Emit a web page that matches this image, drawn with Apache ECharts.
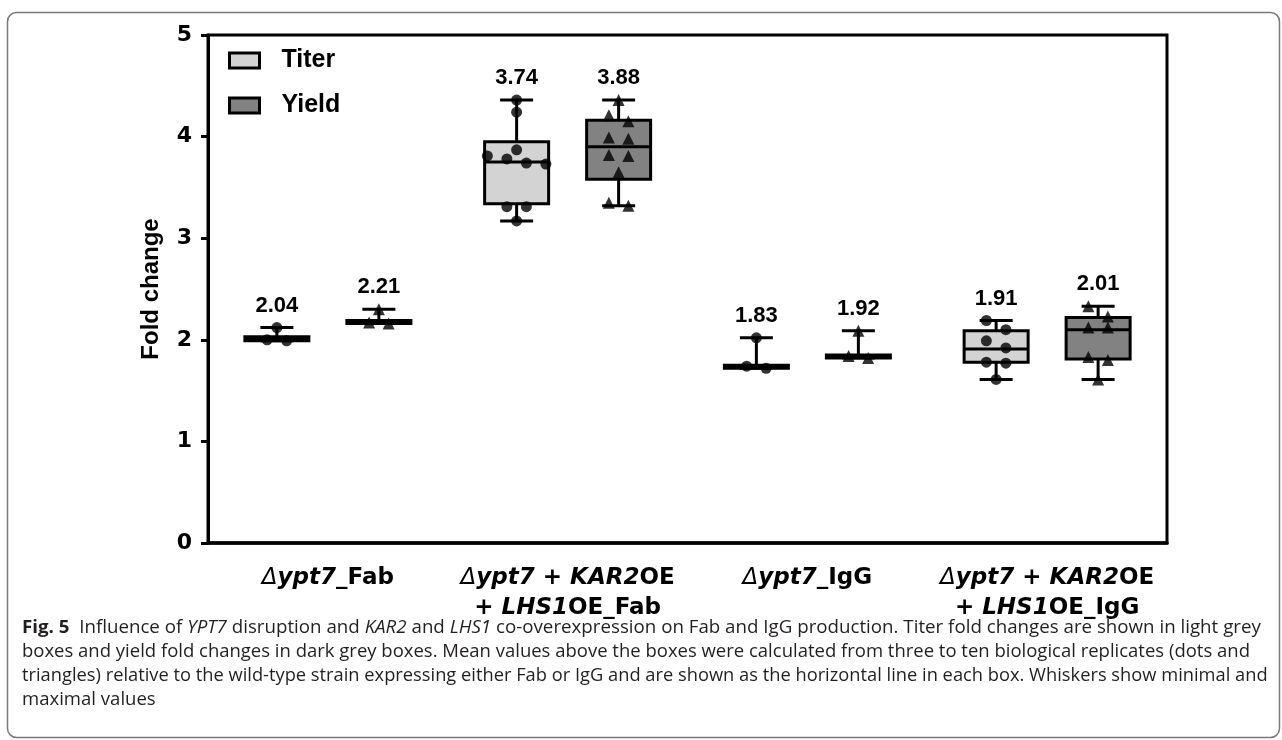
<!DOCTYPE html>
<html>
<head>
<meta charset="utf-8">
<script src="https://cdn.jsdelivr.net/npm/echarts@6/dist/echarts.min.js"></script>
<style>
  html, body { margin: 0; padding: 0; background: #fff; }
  #chart { width: 1282px; height: 740px; }
</style>
</head>
<body>
<div id="chart"></div>
<script>
// Strains (x categories) and their two-line rich labels
const categories = ['Δypt7_Fab', 'Δypt7 + KAR2OE + LHS1OE_Fab', 'Δypt7_IgG', 'Δypt7 + KAR2OE + LHS1OE_IgG'];
const categoryLabels = [
  '{d|Δ}{i|ypt7}{b|_Fab}',
  '{d|Δ}{i|ypt7}{b| + }{i|KAR2}{b|OE}\n{b|+ }{i|LHS1}{b|OE_Fab}',
  '{d|Δ}{i|ypt7}{b|_IgG}',
  '{d|Δ}{i|ypt7}{b| + }{i|KAR2}{b|OE}\n{b|+ }{i|LHS1}{b|OE_IgG}'
];

// Biological replicates (fold change vs. wild type)
const titerReplicates = [
  [1.99, 2.00, 2.12],
  [3.17, 3.31, 3.31, 3.73, 3.74, 3.78, 3.81, 3.87, 4.24, 4.36],
  [1.72, 1.74, 2.02],
  [1.61, 1.77, 1.78, 1.92, 1.99, 2.10, 2.19]
];
const yieldReplicates = [
  [2.16, 2.17, 2.30],
  [3.32, 3.35, 3.65, 3.81, 3.82, 3.98, 3.99, 4.15, 4.21, 4.36],
  [1.82, 1.84, 2.09],
  [1.61, 1.80, 1.83, 2.12, 2.12, 2.23, 2.33]
];

// Box statistics: [min, Q1, centre line, Q3, max]
const titerBoxes = [
  [1.99, 1.99, 2.01, 2.03, 2.12],
  [3.17, 3.34, 3.75, 3.95, 4.36],
  [1.72, 1.72, 1.74, 1.75, 2.02],
  [1.61, 1.78, 1.91, 2.09, 2.19]
];
const yieldBoxes = [
  [2.16, 2.16, 2.17, 2.19, 2.30],
  [3.32, 3.58, 3.90, 4.16, 4.36],
  [1.82, 1.82, 1.84, 1.85, 2.09],
  [1.61, 1.81, 2.10, 2.22, 2.33]
];

// Mean fold changes printed above the boxes
const titerMeans = [2.04, 3.74, 1.83, 1.91];
const yieldMeans = [2.21, 3.88, 1.92, 2.01];

// Y axis
const yMin = 0, yMax = 5, yStep = 1;

// Layout
const GRID = { left: 208, top: 35, right: 115, bottom: 197 };
const PLOT_H = 740 - GRID.top - GRID.bottom;
const PX_PER_UNIT = PLOT_H / (yMax - yMin);
const SERIES_SHIFT = 51;     // px from category centre to each box
const BOX_W = 64;
const CAP_W = 33;
const SWARM_STEP = 19.5;     // horizontal spacing of points sharing a row
const SWARM_ROW = 11;        // px: points closer than this share a row
const FONT = '"Liberation Sans", Arial, sans-serif';
const WIDE_FONT = '"DejaVu Sans", Verdana, sans-serif';
const CAPTION_FONT = '"Open Sans", sans-serif';
const CAPTION_STRETCH = [1.04, 1.027, 1.016, 1.03];   // horizontal stretch per caption line
const TITER_FILL = '#d3d3d3';
const YIELD_FILL = '#828282';

// Spread replicates sideways in rows so overlapping markers stay visible
function swarm(values) {
  const sorted = values.map(v => ({ v })).sort((a, b) => a.v - b.v);
  const rows = [];
  sorted.forEach(p => {
    const row = rows[rows.length - 1];
    if (row && (p.v - row[0].v) * PX_PER_UNIT <= SWARM_ROW) row.push(p);
    else rows.push([p]);
  });
  const out = [];
  rows.forEach(row => {
    row.sort((a, b) => b.v - a.v);
    const n = row.length;
    row.forEach((p, j) => out.push({ v: p.v, dx: (j - (n - 1) / 2) * SWARM_STEP }));
  });
  return out;
}

function pointData(reps, shift) {
  const data = [];
  reps.forEach((vals, i) => {
    swarm(vals).forEach(p => {
      data.push({ value: [i, p.v], symbolOffset: [shift + p.dx, 0] });
    });
  });
  return data;
}

function boxRenderer(shift, fill) {
  return function (params, api) {
    const i = api.value(0);
    const cx = api.coord([i, 0])[0] + shift;
    const y = v => api.coord([i, v])[1];
    const vMin = api.value(1), q1 = api.value(2), mid = api.value(3), q3 = api.value(4), vMax = api.value(5);
    const mean = api.value(6);
    const line = { stroke: '#000', lineWidth: 3 };
    const children = [
      { type: 'line', shape: { x1: cx, y1: y(vMax), x2: cx, y2: y(q3) }, style: line },
      { type: 'line', shape: { x1: cx, y1: y(q1), x2: cx, y2: y(vMin) }, style: line },
      { type: 'line', shape: { x1: cx - CAP_W / 2, y1: y(vMax), x2: cx + CAP_W / 2, y2: y(vMax) }, style: line },
      { type: 'line', shape: { x1: cx - CAP_W / 2, y1: y(vMin), x2: cx + CAP_W / 2, y2: y(vMin) }, style: line },
      { type: 'rect', shape: { x: cx - BOX_W / 2, y: y(q3), width: BOX_W, height: y(q1) - y(q3) },
        style: { fill: fill, stroke: '#000', lineWidth: 3 } },
      { type: 'line', shape: { x1: cx - BOX_W / 2, y1: y(mid), x2: cx + BOX_W / 2, y2: y(mid) }, style: line },
      { type: 'text', style: { x: cx, y: y(vMax) - 22, text: mean.toFixed(2), align: 'center', verticalAlign: 'middle',
        font: 'bold 22px ' + FONT, fill: '#000' } }
    ];
    return { type: 'group', children: children };
  };
}

const captionRich = {
  fig: { fontFamily: CAPTION_FONT, fontSize: 18, fontWeight: 'bold', color: '#231f20' },
  i: { fontFamily: CAPTION_FONT, fontSize: 18, fontStyle: 'italic', color: '#231f20' },
  t: { fontFamily: CAPTION_FONT, fontSize: 18, color: '#231f20' }
};
const captionLines = [
  '{fig|Fig. 5}{t|  Influence of }{i|YPT7}{t| disruption and }{i|KAR2}{t| and }{i|LHS1}{t| co-overexpression on Fab and IgG production. Titer fold changes are shown in light grey}',
  '{t|boxes and yield fold changes in dark grey boxes. Mean values above the boxes were calculated from three to ten biological replicates (dots and}',
  '{t|triangles) relative to the wild-type strain expressing either Fab or IgG and are shown as the horizontal line in each box. Whiskers show minimal and}',
  '{t|maximal values}'
];

const chart = echarts.init(document.getElementById('chart'), null, { renderer: 'canvas' });

const option = {
  backgroundColor: '#fff',
  animation: false,
  textStyle: { fontFamily: FONT },
  grid: { left: GRID.left, top: GRID.top, right: GRID.right, bottom: GRID.bottom,
    show: true, borderColor: '#000', borderWidth: 3, backgroundColor: 'transparent' },
  legend: {
    orient: 'vertical', left: 223, top: 43, itemWidth: 30, itemHeight: 15, itemGap: 20,
    selectedMode: false,
    textStyle: { fontFamily: FONT, fontSize: 25, fontWeight: 'bold', color: '#000', padding: [0, 0, 0, 17] },
    data: [
      { name: 'Titer', icon: 'rect', itemStyle: { color: TITER_FILL, borderColor: '#000', borderWidth: 3 } },
      { name: 'Yield', icon: 'rect', itemStyle: { color: YIELD_FILL, borderColor: '#000', borderWidth: 3 } }
    ]
  },
  xAxis: {
    type: 'category', data: categories, boundaryGap: true,
    axisLine: { lineStyle: { color: '#000', width: 3.5 } },
    axisTick: { alignWithLabel: true, length: 12, lineStyle: { color: '#000', width: 3 } },
    axisLabel: {
      margin: 20, interval: 0,
      formatter: (v, i) => categoryLabels[i],
      rich: {
        d: { fontFamily: WIDE_FONT, fontSize: 23, fontStyle: 'italic', color: '#000', lineHeight: 30 },
        i: { fontFamily: WIDE_FONT, fontSize: 23, fontStyle: 'italic', fontWeight: 'bold', color: '#000', lineHeight: 30 },
        b: { fontFamily: WIDE_FONT, fontSize: 23, fontWeight: 'bold', color: '#000', lineHeight: 30 }
      }
    },
    splitLine: { show: false }
  },
  yAxis: {
    type: 'value', min: yMin, max: yMax, interval: yStep,
    name: 'Fold change', nameLocation: 'middle', nameGap: 45, nameRotate: 90,
    nameTextStyle: { fontFamily: FONT, fontSize: 24, fontWeight: 'bold', color: '#000' },
    axisLine: { show: true, lineStyle: { color: '#000', width: 3 } },
    axisTick: { show: true, length: 7, lineStyle: { color: '#000', width: 3 } },
    axisLabel: { margin: 16, fontFamily: WIDE_FONT, fontSize: 22, fontWeight: 'bold', color: '#000' },
    splitLine: { show: false }
  },
  series: [
    {
      name: 'Titer', type: 'custom', z: 2,
      itemStyle: { color: TITER_FILL, borderColor: '#000', borderWidth: 3 },
      renderItem: boxRenderer(-SERIES_SHIFT, TITER_FILL),
      encode: { x: 0, y: [1, 2, 3, 4, 5] },
      data: titerBoxes.map((b, i) => [i].concat(b, [titerMeans[i]]))
    },
    {
      name: 'Yield', type: 'custom', z: 2,
      itemStyle: { color: YIELD_FILL, borderColor: '#000', borderWidth: 3 },
      renderItem: boxRenderer(SERIES_SHIFT, YIELD_FILL),
      encode: { x: 0, y: [1, 2, 3, 4, 5] },
      data: yieldBoxes.map((b, i) => [i].concat(b, [yieldMeans[i]]))
    },
    {
      name: 'Titer replicates', type: 'scatter', z: 4, symbol: 'circle', symbolSize: 11,
      itemStyle: { color: '#000' }, silent: true,
      data: pointData(titerReplicates, -SERIES_SHIFT)
    },
    {
      name: 'Yield replicates', type: 'scatter', z: 4, symbol: 'triangle', symbolSize: 12,
      itemStyle: { color: '#000' }, silent: true,
      data: pointData(yieldReplicates, SERIES_SHIFT)
    }
  ],
  graphic: [
    { type: 'rect', left: 5, top: 10, silent: true,
      shape: { width: 1272, height: 725, r: 9 },
      style: { fill: 'none', stroke: '#7a7a7a', lineWidth: 1.5 } }
  ].concat(captionLines.map((txt, k) => ({
    type: 'text', x: 22, y: 619 + k * 24, scaleX: CAPTION_STRETCH[k], silent: true,
    style: { text: txt, rich: captionRich, fill: '#231f20' }
  })))
};

chart.setOption(option);
</script>
</body>
</html>
